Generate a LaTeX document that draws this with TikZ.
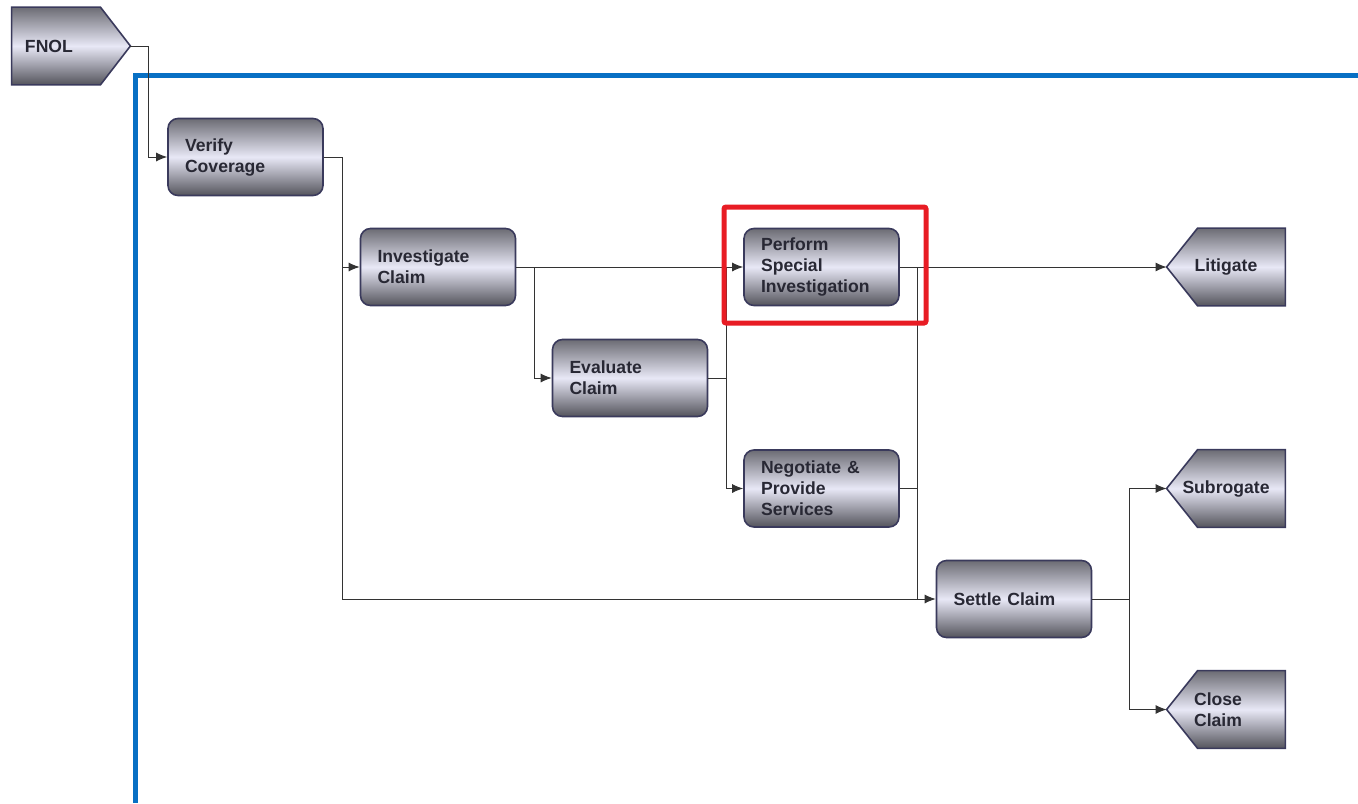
\documentclass[tikz,border=0pt]{standalone}
\usepackage{fontspec}
\setmainfont{Liberation Sans}
\usetikzlibrary{arrows.meta,backgrounds}

\definecolor{boxtop}{RGB}{108,108,116}
\definecolor{boxmid}{RGB}{232,232,246}
\definecolor{boxbot}{RGB}{84,84,92}
\definecolor{boxline}{RGB}{58,58,92}
\definecolor{boxtext}{RGB}{40,40,52}
\definecolor{flowblue}{RGB}{8,112,196}
\definecolor{markred}{RGB}{232,28,36}

\begin{document}
\begin{tikzpicture}[x=0.5pt, y=-0.5pt, >={Latex[length=5.5pt,width=4.5pt]},
    task/.style={rectangle, rounded corners=5pt, draw=boxline, line width=0.8pt,
        top color=boxtop, bottom color=boxbot, middle color=boxmid,
        minimum width=77.5pt, minimum height=38.5pt, text width=60.5pt,
        inner xsep=8.5pt, align=left, text=boxtext,
        font=\bfseries\fontsize{8.8}{10.5}\selectfont},
    terminal/.style={rectangle, minimum width=59pt, minimum height=38.5pt,
        inner sep=0pt, align=left, text=boxtext,
        font=\bfseries\fontsize{8.8}{10.5}\selectfont},
    link/.style={line width=0.5pt, black!80}]

\useasboundingbox (0,0) rectangle (1358,803);

% Start and end points
\node[terminal, text width=46pt, inner xsep=6.5pt] (fnol) at (71,46) {FNOL};
\node[terminal] (lit) at (1226,267) {Litigate};
\node[terminal] (sub) at (1226,488.5) {Subrogate};
\node[terminal] (clo) at (1226,709.5) {Close\\Claim\hspace*{8pt}};

% Process steps
\node[task] (ver) at (245.5,157) {Verify\\Coverage};
\node[task] (inv) at (438,267) {Investigate\\Claim};
\node[task] (eva) at (630,378) {Evaluate\\Claim};
\node[task] (psi) at (821.5,267) {Perform\\Special\\Investigation};
\node[task] (neg) at (821.5,488.5) {Negotiate \&\\Provide\\Services};
\node[task] (set) at (1014,599) {Settle Claim};

% Pointed shapes behind the terminals
\begin{scope}[on background layer]
\shadedraw[draw=boxline, line width=0.8pt, top color=boxtop, bottom color=boxbot,
    middle color=boxmid]
    (fnol.north west) -- ([xshift=-15pt]fnol.north east) -- (fnol.east)
    -- ([xshift=-15pt]fnol.south east) -- (fnol.south west) -- cycle;
\foreach \n in {lit,sub,clo}
{
    \shadedraw[draw=boxline, line width=0.8pt, top color=boxtop, bottom color=boxbot,
        middle color=boxmid]
        (\n.north east) -- ([xshift=15.5pt]\n.north west) -- (\n.west)
        -- ([xshift=15.5pt]\n.south west) -- (\n.south east) -- cycle;
}
\end{scope}

% Blue frame line
\draw[flowblue, line width=2.5pt] (135,803) -- (135,75) -- (1358,75);

% Connectors
\draw[link, ->] (fnol.east) -- ++(18,0) |- (ver.west);
\draw[link, ->] (ver.east) -- ++(19,0) coordinate (vj) |- (inv.west);
\draw[link, ->] (vj) |- (set.west);
\draw[link, ->] (inv.east) -- (psi.west);
\draw[link, ->] (inv.east) -- ++(18,0) |- (eva.west);
\draw[link] (eva.east) -- ++(18,0) coordinate (ej);
\draw[link] (ej) -- (ej |- psi.west);
\draw[link, ->] (ej) |- (neg.west);
\draw[link, ->] (psi.east) -- (lit.west);
\draw[link] (psi.east) -- ++(18,0) coordinate (pj);
\draw[link] (pj) -- (pj |- set.west);
\draw[link] (neg.east) -- (neg.east -| pj);
\draw[link] (set.east) -- ++(37,0) coordinate (sj);
\draw[link, ->] (sj) |- (sub.west);
\draw[link, ->] (sj) |- (clo.west);

% Highlight
\draw[markred, line width=2.5pt, rounded corners=1pt] (724,207) rectangle (926,323);

\end{tikzpicture}
\end{document}
